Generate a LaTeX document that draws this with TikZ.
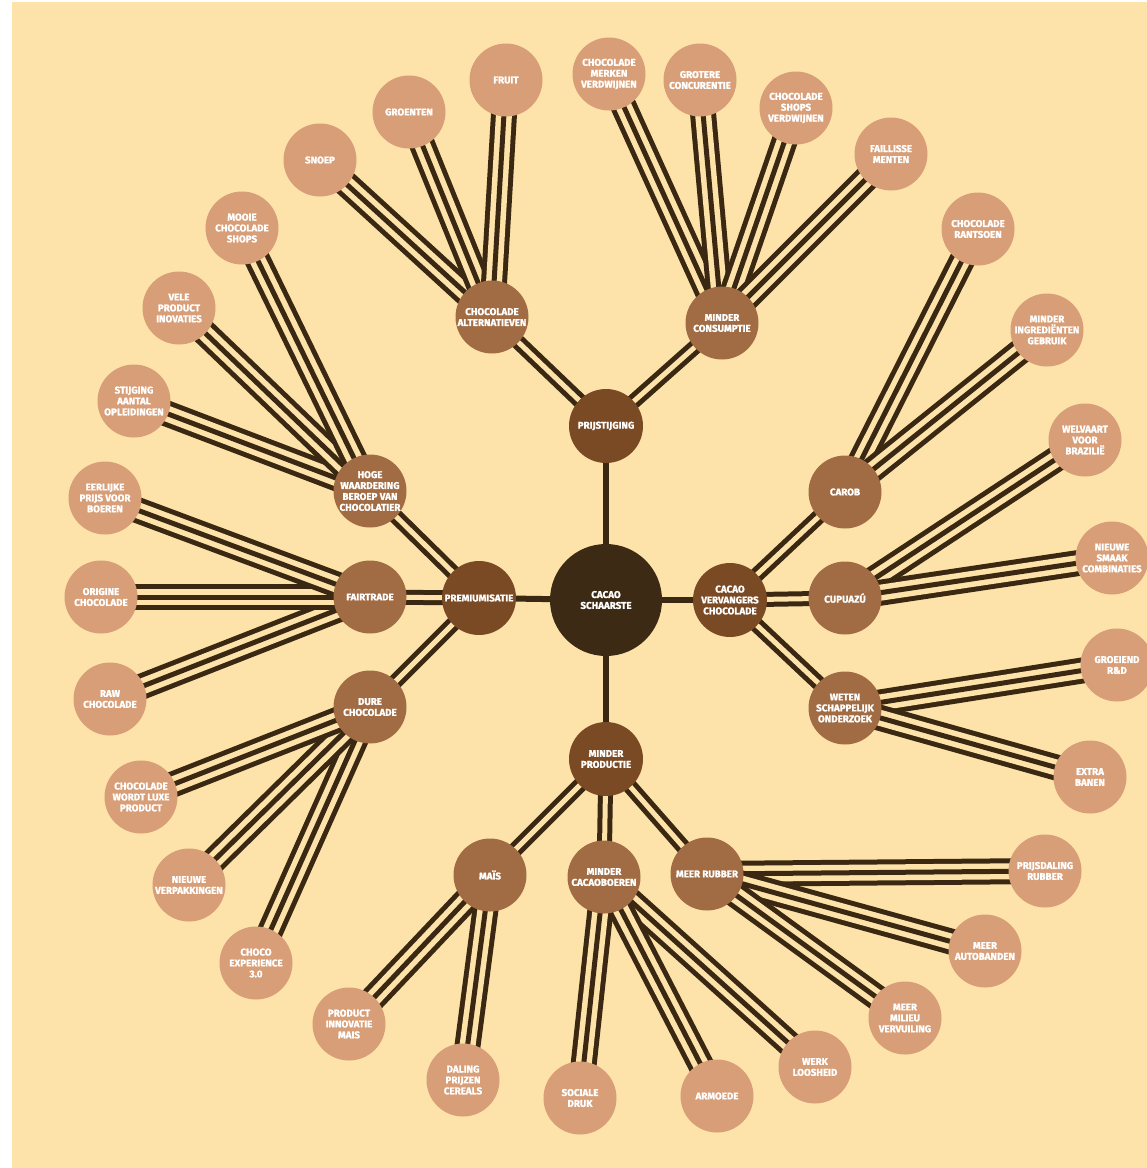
\documentclass[tikz,border=0pt]{standalone}
\usepackage{fontspec}
\setmainfont{Fira Sans}[BoldFeatures={FakeBold=1.4}]
\usetikzlibrary{backgrounds}
\definecolor{creme}{HTML}{FDE3AA}
\definecolor{donker}{HTML}{3B2812}
\definecolor{kern}{HTML}{3D2A14}
\definecolor{oorzaak}{HTML}{7A4A24}
\definecolor{gevolg}{HTML}{A16C44}
\definecolor{blad}{HTML}{D89E77}
\tikzset{
    bol/.style={circle, inner sep=0pt, text=white, align=center, font=\bfseries\fontsize{9.8}{10.9}\selectfont},
    kernbol/.style={bol, fill=kern, minimum size=112pt},
    oorzaakbol/.style={bol, fill=oorzaak, minimum size=74pt},
    gevolgbol/.style={bol, fill=gevolg, minimum size=73pt},
    bladbol/.style={bol, fill=blad, minimum size=73pt},
    enkel/.style={draw=donker, line width=6pt},
    dubbel/.style={draw=donker, line width=15pt, postaction={draw=creme, line width=5pt}},
    drievoud/.style={draw=donker, line width=26pt, postaction={draw=creme, line width=16pt}, postaction={draw=donker, line width=5pt}}
}
\begin{document}
\begin{tikzpicture}[x=1pt, y=-1pt]
    \useasboundingbox (0,0) rectangle (1147,1168);
    \node [kernbol] (schaarste) at (606,600) {CACAO\\SCHAARSTE};
    \node [oorzaakbol] (prijs) at (606,426) {PRIJSTIJGING};
    \node [oorzaakbol] (prem) at (479,598) {PREMIUMISATIE};
    \node [oorzaakbol] (verv) at (730,600) {CACAO\\VERVANGERS\\CHOCOLADE};
    \node [oorzaakbol] (prod) at (606,759) {MINDER\\PRODUCTIE};
    \node [gevolgbol] (alt) at (492,317) {CHOCOLADE\\ALTERNATIEVEN};
    \node [gevolgbol] (cons) at (722,323) {MINDER\\CONSUMPTIE};
    \node [gevolgbol] (hoge) at (370,491) {HOGE\\WAARDERING\\BEROEP VAN\\CHOCOLATIER};
    \node [gevolgbol] (fair) at (370,597) {FAIRTRADE};
    \node [gevolgbol] (dure) at (370,707) {DURE\\CHOCOLADE};
    \node [gevolgbol] (carob) at (845,492) {CAROB};
    \node [gevolgbol] (cupu) at (845,598) {CUPUAZÚ};
    \node [gevolgbol] (weten) at (845,708) {WETEN\\SCHAPPELIJK\\ONDERZOEK};
    \node [gevolgbol] (mais) at (490,875) {MAÏS};
    \node [gevolgbol] (boeren) at (604,877) {MINDER\\CACAOBOEREN};
    \node [gevolgbol] (rubber) at (707,874) {MEER RUBBER};
    \node [bladbol] (snoep) at (320,160) {SNOEP};
    \node [bladbol] (groenten) at (409,112) {GROENTEN};
    \node [bladbol] (fruit) at (506,80) {FRUIT};
    \node [bladbol] (merken) at (609,74) {CHOCOLADE\\MERKEN\\VERDWIJNEN};
    \node [bladbol] (concur) at (700,80) {GROTERE\\CONCURENTIE};
    \node [bladbol] (shops) at (796,108) {CHOCOLADE\\SHOPS\\VERDWIJNEN};
    \node [bladbol] (faill) at (891,154) {FAILLISSE\\MENTEN};
    \node [bladbol] (rantsoen) at (978,229) {CHOCOLADE\\RANTSOEN};
    \node [bladbol] (ingr) at (1047,330) {MINDER\\INGREDIËNTEN\\GEBRUIK};
    \node [bladbol] (welvaart) at (1085,440) {WELVAART\\VOOR\\BRAZILIË};
    \node [bladbol] (smaak) at (1112,558) {NIEUWE\\SMAAK\\COMBINATIES};
    \node [bladbol] (rd) at (1117,665) {GROEIEND\\R\&D};
    \node [bladbol] (banen) at (1090,777) {EXTRA\\BANEN};
    \node [bladbol] (prijsdaling) at (1045,871) {PRIJSDALING\\RUBBER};
    \node [bladbol] (autobanden) at (985,951) {MEER\\AUTOBANDEN};
    \node [bladbol] (milieu) at (905,1018) {MEER\\MILIEU\\VERVUILING};
    \node [bladbol] (werk) at (815,1067) {WERK\\LOOSHEID};
    \node [bladbol] (armoede) at (717,1096) {ARMOEDE};
    \node [bladbol] (sociale) at (580,1098) {SOCIALE\\DRUK};
    \node [bladbol] (daling) at (463,1080) {DALING\\PRIJZEN\\CEREALS};
    \node [bladbol] (innovatie) at (349,1024) {PRODUCT\\INNOVATIE\\MAIS};
    \node [bladbol] (experience) at (256,963) {CHOCO\\EXPERIENCE\\3.0};
    \node [bladbol] (verpak) at (189,885) {NIEUWE\\VERPAKKINGEN};
    \node [bladbol] (luxe) at (141,797) {CHOCOLADE\\WORDT LUXE\\PRODUCT};
    \node [bladbol] (raw) at (110,699) {RAW\\CHOCOLADE};
    \node [bladbol] (origine) at (101,597) {ORIGINE\\CHOCOLADE};
    \node [bladbol] (eerlijk) at (105,498) {EERLIJKE\\PRIJS VOOR\\BOEREN};
    \node [bladbol] (opleid) at (134,401) {STIJGING\\AANTAL\\OPLEIDINGEN};
    \node [bladbol] (inov) at (179,308) {VELE\\PRODUCT\\INOVATIES};
    \node [bladbol] (mooie) at (242,228) {MOOIE\\CHOCOLADE\\SHOPS};
    \begin{pgfonlayer}{background}
        \fill [white] (0,0) rectangle (1147,1168);
        \fill [creme] (12,2) rectangle (1147,1168);
        \foreach \b in {prijs, prem, verv, prod}
            \draw [enkel] (schaarste.center) -- (\b.center);
        \foreach \a/\b in {prijs/alt, prijs/cons, prem/hoge, prem/fair, prem/dure, verv/carob, verv/cupu, verv/weten, prod/mais, prod/boeren, prod/rubber}
            \draw [dubbel] (\a.center) -- (\b.center);
        \foreach \a/\b in {alt/snoep, alt/groenten, alt/fruit, cons/merken, cons/concur, cons/shops, cons/faill, carob/rantsoen, carob/ingr, cupu/welvaart, cupu/smaak, weten/rd, weten/banen, rubber/prijsdaling, rubber/autobanden, rubber/milieu, boeren/werk, boeren/armoede, boeren/sociale, mais/daling, mais/innovatie, dure/experience, dure/verpak, dure/luxe, fair/raw, fair/origine, fair/eerlijk, hoge/opleid, hoge/inov, hoge/mooie}
            \draw [drievoud] (\a.center) -- (\b.center);
    \end{pgfonlayer}
\end{tikzpicture}
\end{document}
